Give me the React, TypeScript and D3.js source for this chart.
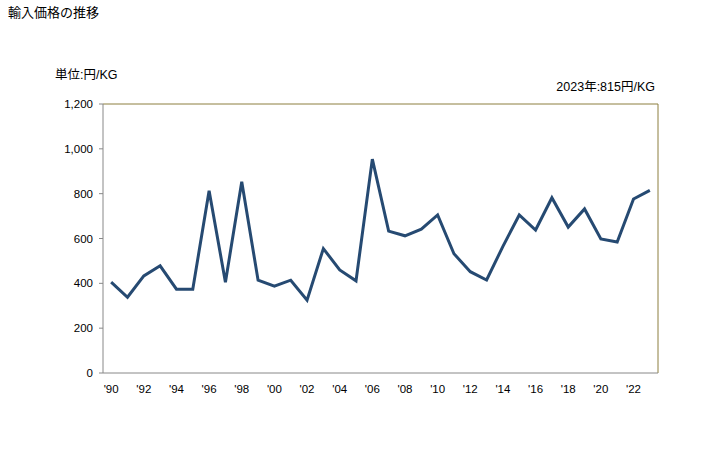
import React from "react";
import * as d3 from "d3";

const years: number[] = d3.range(1990, 2024);
const values: number[] = [
  405, 338, 433, 478, 374, 374, 813, 405, 853, 414,
  387, 414, 325, 555, 460, 411, 954, 633, 612, 642,
  705, 532, 452, 415, 565, 705, 638, 782, 651, 732,
  598, 584, 776, 815,
];
const yTicks: number[] = [0, 200, 400, 600, 800, 1000, 1200];
const title = "輸入価格の推移";
const unitLabel = "単位:円/KG";
const latestLabel = "2023年:815円/KG";

const W = 728;
const H = 450;
const m = { left: 103, top: 104, right: 658, bottom: 373 };
const font = "'Liberation Sans', 'Noto Sans CJK JP', sans-serif";

export default function App() {
  const x = d3
    .scaleBand<number>()
    .domain(years)
    .range([m.left, m.right]);
  const y = d3.scaleLinear().domain([0, 1200]).range([m.bottom, m.top]);
  const cx = (yr: number) => (x(yr) as number) + x.bandwidth() / 2;
  const line = d3
    .line<number>()
    .x((_, i) => cx(years[i]))
    .y((d) => y(d));
  const fmt = d3.format(",");

  return (
    <svg
      width={W}
      height={H}
      style={{ position: "absolute", left: 0, top: 0, background: "#fff" }}
      fontFamily={font}
    >
      <text x={8} y={17} fontSize={13} fill="#000">{title}</text>
      <text x={55} y={79} fontSize={12.5} fill="#000">{unitLabel}</text>
      <text x={655} y={91} fontSize={12.5} fill="#000" textAnchor="end">{latestLabel}</text>

      {/* frame top/right */}
      <line x1={m.left} x2={m.right} y1={m.top} y2={m.top} stroke="#8c7e3e" strokeWidth={1} />
      <line x1={m.right} x2={m.right} y1={m.top} y2={m.bottom} stroke="#8c7e3e" strokeWidth={1} />
      {/* axes */}
      <line x1={m.left} x2={m.left} y1={m.top} y2={m.bottom} stroke="#888" strokeWidth={1} />
      <line x1={m.left} x2={m.right} y1={m.bottom} y2={m.bottom} stroke="#888" strokeWidth={1} />

      {yTicks.map((t) => (
        <g key={t}>
          <line x1={m.left - 4} x2={m.left} y1={y(t)} y2={y(t)} stroke="#888" />
          <text x={93} y={y(t) + 4} fontSize={11.5} textAnchor="end" fill="#000">
            {fmt(t)}
          </text>
        </g>
      ))}

      {years
        .filter((yr) => yr % 2 === 0)
        .map((yr) => (
          <text key={yr} x={cx(yr)} y={393} fontSize={11.5} textAnchor="middle" fill="#000">
            {"'" + String(yr % 100).padStart(2, "0")}
          </text>
        ))}

      <path
        d={line(values) || ""}
        fill="none"
        stroke="#264a72"
        strokeWidth={3}
        strokeLinejoin="miter"
      />
    </svg>
  );
}
